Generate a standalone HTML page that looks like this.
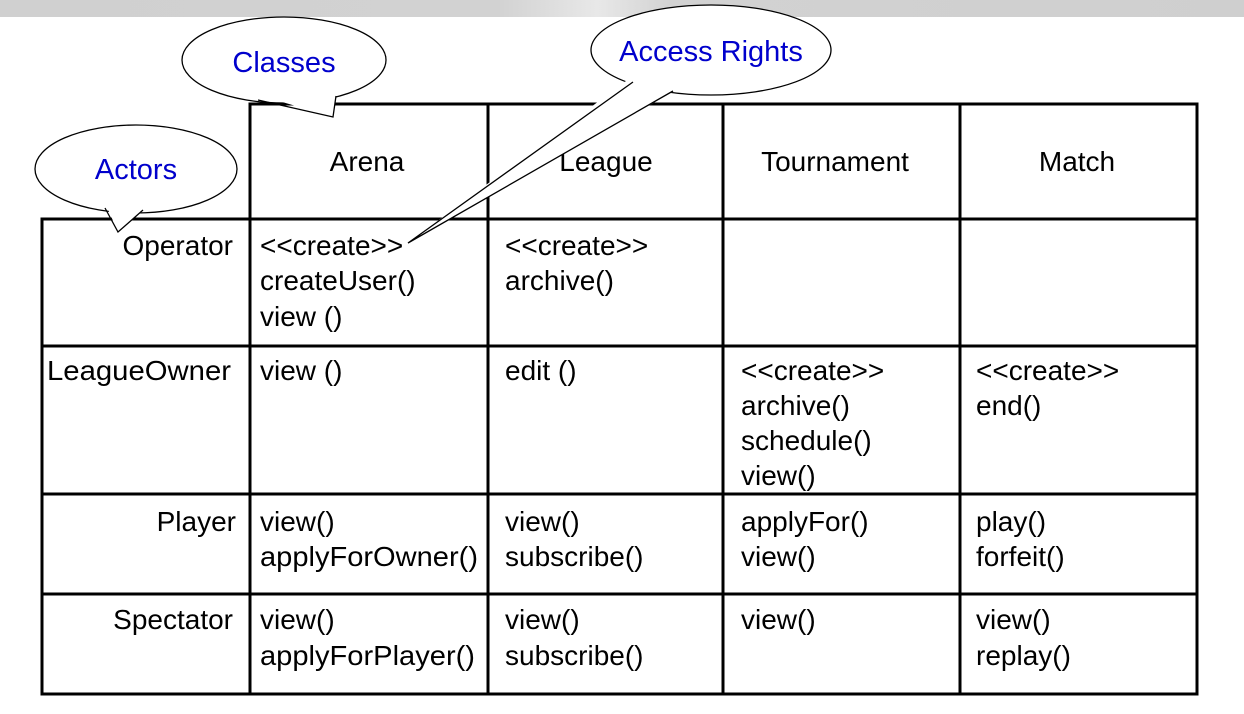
<!DOCTYPE html>
<html><head><meta charset="utf-8"><style>
html,body{margin:0;padding:0;background:#fff;width:1244px;height:714px;overflow:hidden}
</style></head><body>
<svg width="1244" height="714" viewBox="0 0 1244 714" xmlns="http://www.w3.org/2000/svg">
<defs><linearGradient id="g" x1="0" x2="1" y1="0" y2="0">
<stop offset="0" stop-color="#d0d0d0"/><stop offset="0.40" stop-color="#d2d2d2"/><stop offset="0.48" stop-color="#e8e8e8"/><stop offset="0.54" stop-color="#d2d2d2"/><stop offset="1" stop-color="#cfcfcf"/></linearGradient></defs>
<rect x="0" y="0" width="1244" height="17" fill="url(#g)"/>
<g stroke="#000" stroke-width="3" fill="none">
<polyline points="250,219 250,104 1197,104 1197,694 42,694 42,219 1197,219"/>
<line x1="488" y1="104" x2="488" y2="694"/>
<line x1="723" y1="104" x2="723" y2="694"/>
<line x1="960" y1="104" x2="960" y2="694"/>
<line x1="250" y1="219" x2="250" y2="694"/>
<line x1="42" y1="346" x2="1197" y2="346"/>
<line x1="42" y1="494" x2="1197" y2="494"/>
<line x1="42" y1="594" x2="1197" y2="594"/>
</g>
<g font-family="Liberation Sans, sans-serif" font-size="28" fill="#000" transform="scale(1,1)">
<text x="367" y="171" text-anchor="middle">Arena</text>
<text x="606" y="171" text-anchor="middle">League</text>
<text x="835" y="171" text-anchor="middle">Tournament</text>
<text x="1077" y="171" text-anchor="middle">Match</text>
<text x="233" y="255" text-anchor="end">Operator</text>
<text x="47" y="380" textLength="184" lengthAdjust="spacingAndGlyphs">LeagueOwner</text>
<text x="236" y="531" text-anchor="end">Player</text>
<text x="233" y="629" text-anchor="end">Spectator</text>
<text x="260" y="255">&lt;&lt;create&gt;&gt;</text>
<text x="260" y="290">createUser()</text>
<text x="260" y="326">view ()</text>
<text x="505" y="255">&lt;&lt;create&gt;&gt;</text>
<text x="505" y="290">archive()</text>
<text x="260" y="380">view ()</text>
<text x="505" y="380">edit ()</text>
<text x="741" y="380">&lt;&lt;create&gt;&gt;</text>
<text x="741" y="415">archive()</text>
<text x="741" y="450">schedule()</text>
<text x="741" y="485">view()</text>
<text x="976" y="380">&lt;&lt;create&gt;&gt;</text>
<text x="976" y="415">end()</text>
<text x="260" y="531">view()</text>
<text x="260" y="566" textLength="218" lengthAdjust="spacingAndGlyphs">applyForOwner()</text>
<text x="505" y="531">view()</text>
<text x="505" y="566">subscribe()</text>
<text x="741" y="531">applyFor()</text>
<text x="741" y="566">view()</text>
<text x="976" y="531">play()</text>
<text x="976" y="566">forfeit()</text>
<text x="260" y="629">view()</text>
<text x="260" y="665" textLength="215" lengthAdjust="spacingAndGlyphs">applyForPlayer()</text>
<text x="505" y="629">view()</text>
<text x="505" y="665">subscribe()</text>
<text x="741" y="629">view()</text>
<text x="976" y="629">view()</text>
<text x="976" y="665">replay()</text>
</g>
<g stroke="#000" stroke-width="1.3" fill="#fff">
<ellipse cx="284" cy="60" rx="102" ry="43"/>
<polygon points="262,96 333,117 336,94" stroke="none"/>
<polyline points="258,100 333,117 336,96" fill="none"/>
<ellipse cx="136" cy="169" rx="101" ry="44"/>
<polygon points="106,205 118,232 145,209" stroke="none"/>
<polyline points="105,208 118,232 143,210" fill="none"/>
<ellipse cx="711" cy="50" rx="120" ry="45"/>
<polygon points="630,78 408,243 676,90" stroke="none" fill="#fff"/>
<polyline points="633,82 408,243 673,91" fill="none"/>
</g>
<g font-family="Liberation Sans, sans-serif" font-size="29" fill="#0000cc" text-anchor="middle">
<text x="284" y="72">Classes</text>
<text x="136" y="179">Actors</text>
<text x="711" y="61">Access Rights</text>
</g>
</svg>
</body></html>
